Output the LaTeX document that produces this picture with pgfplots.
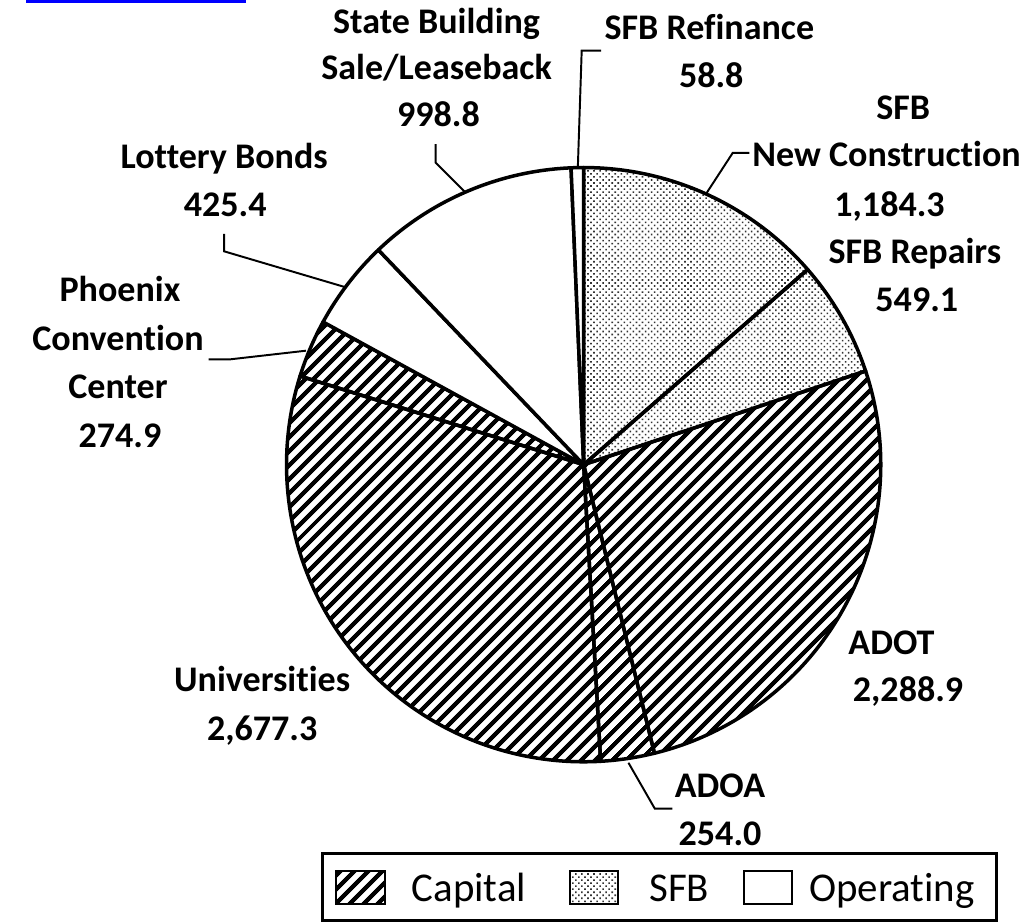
\documentclass[border=0pt]{standalone}
\usepackage{pgfplots}
\pgfplotsset{compat=1.18}
\usetikzlibrary{patterns,patterns.meta}
\usepackage{fontspec}
\setmainfont{Carlito}[Ligatures={NoCommon}]

% values in order, clockwise from 12 o'clock
\newcommand\piedata{1184.3, 549.1, 2288.9, 254.0, 2677.3, 274.9, 425.4, 998.8, 58.8}

\tikzset{
  fcap/.style={pattern={Lines[angle=45,distance=5.4pt,line width=2.4pt]},pattern color=black},
  fsfb/.style={pattern={Dots[angle=45,distance=2.2pt,radius=0.58pt]},pattern color=black!80},
  fop/.style={fill=white},
  lbl/.style={font=\fontsize{18.5}{22}\selectfont\bfseries,anchor=base,inner sep=0pt},
  leader/.style={line width=1pt},
}

\begin{document}
\pgfmathsetmacro\total{0}
\foreach \v in \piedata {\pgfmathparse{\total+\v}\xdef\total{\pgfmathresult}}
\xdef\cum{0}
\foreach \v [count=\i] in \piedata {%
  \pgfmathparse{90-360*(\cum/\total)}\expandafter\xdef\csname sa\i\endcsname{\pgfmathresult}%
  \pgfmathparse{\cum+\v}\xdef\cum{\pgfmathresult}%
  \pgfmathparse{90-360*(\cum/\total)}\expandafter\xdef\csname sb\i\endcsname{\pgfmathresult}%
}
\def\R{152.5pt}
\newcommand\slice[2]{\filldraw[#2,line width=1.8pt,line join=round]
  (axis cs:572,477) -- ++(\csname sa#1\endcsname:\R)
  arc[start angle=\csname sa#1\endcsname,end angle=\csname sb#1\endcsname,radius=\R] -- cycle;}
\begin{tikzpicture}
\begin{axis}[
  width=511pt,height=473.5pt,scale only axis,
  xmin=0,xmax=1022,ymin=0,ymax=947,y dir=reverse,
  hide axis,clip=false,
]
\path (axis cs:0,0) rectangle (axis cs:1022,947);
\fill[blue] (axis cs:0,0) rectangle (axis cs:225,3);
% slices
\slice{1}{fsfb}
\slice{2}{fsfb}
\slice{3}{fcap}
\slice{4}{fcap}
\slice{5}{fcap}
\slice{6}{fcap}
\slice{7}{fop}
\slice{8}{fop}
\slice{9}{fop}
% leader lines
\draw[leader] (axis cs:420,148) -- (axis cs:420,167) -- (axis cs:450,197);
\draw[leader] (axis cs:590,52) -- (axis cs:570,52) -- (axis cs:566,173);
\draw[leader] (axis cs:742,157) -- (axis cs:725,157) -- (axis cs:697,200);
\draw[leader] (axis cs:203,240) -- (axis cs:203,258) -- (axis cs:328,295);
\draw[leader] (axis cs:187,369) -- (axis cs:208,369) -- (axis cs:287,360);
\draw[leader] (axis cs:618,783) -- (axis cs:645,830) -- (axis cs:663,830);
% labels
\node[lbl] at (axis cs:421,34) {State Building};
\node[lbl] at (axis cs:421,82) {Sale/Leaseback};
\node[lbl] at (axis cs:423,130) {998.8};
\node[lbl] at (axis cs:701,41) {SFB Refinance};
\node[lbl] at (axis cs:703,90) {58.8};
\node[lbl] at (axis cs:900,123) {SFB};
\node[lbl] at (axis cs:883,171) {New Construction};
\node[lbl] at (axis cs:886,222) {1,184.3};
\node[lbl] at (axis cs:912,271) {SFB Repairs};
\node[lbl] at (axis cs:914,320) {549.1};
\node[lbl] at (axis cs:888,672) {ADOT};
\node[lbl] at (axis cs:905,720) {2,288.9};
\node[lbl] at (axis cs:712,819) {ADOA};
\node[lbl] at (axis cs:712,868) {254.0};
\node[lbl] at (axis cs:242,710) {Universities};
\node[lbl] at (axis cs:242,760) {2,677.3};
\node[lbl] at (axis cs:203,173) {Lottery Bonds};
\node[lbl] at (axis cs:204,222) {425.4};
\node[lbl] at (axis cs:96,310) {Phoenix};
\node[lbl] at (axis cs:94,360) {Convention};
\node[lbl] at (axis cs:94,409) {Center};
\node[lbl] at (axis cs:96,459) {274.9};
% legend
\draw[line width=1.5pt,fill=white] (axis cs:304,876) rectangle (axis cs:996,945);
\draw[fcap,line width=1pt] (axis cs:318,894) rectangle (axis cs:368,928);
\draw[fsfb,line width=1pt] (axis cs:558,894) rectangle (axis cs:607,928);
\draw[fop,line width=1pt] (axis cs:737,894) rectangle (axis cs:786,928);
\node[anchor=base west,inner sep=0pt,font=\fontsize{21}{25}\selectfont] at (axis cs:395,925) {Capital};
\node[anchor=base west,inner sep=0pt,font=\fontsize{21}{25}\selectfont] at (axis cs:639,925) {SFB};
\node[anchor=base west,inner sep=0pt,font=\fontsize{21}{25}\selectfont] at (axis cs:803,925) {Operating};
\end{axis}
\pgfresetboundingbox
\path (current axis.south west) rectangle (current axis.north east);
\end{tikzpicture}
\end{document}
